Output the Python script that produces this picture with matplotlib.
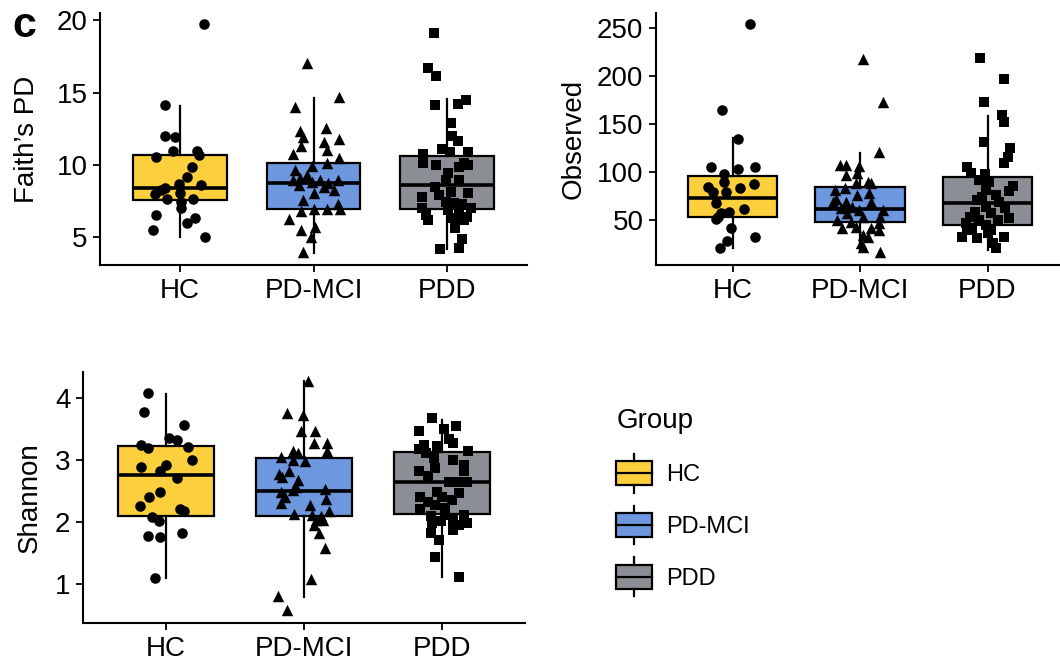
import matplotlib
matplotlib.use("Agg")
import matplotlib.pyplot as plt
from matplotlib.patches import Patch, Rectangle
from matplotlib.lines import Line2D
from matplotlib.legend_handler import HandlerBase

plt.rcParams['font.family'] = ['Liberation Sans', 'DejaVu Sans']

groups = ['HC', 'PD-MCI', 'PDD']
colors = ['#FCD03C', '#6D98E0', '#8B8F95']
markers = ['o', '^', 's']
marker_sizes = [58, 68, 46]

# box statistics: q1, median, q3, lower whisker, upper whisker
faith_box = [(7.58, 8.38, 10.66, 5.05, 14.07),
             (6.93, 8.77, 10.11, 3.90, 14.60),
             (6.93, 8.61, 10.64, 4.20, 14.53)]
observed_box = [(53.1, 72.3, 95.5, 20.2, 134.8),
                (47.9, 60.8, 83.7, 17.7, 119.8),
                (44.5, 67.1, 94.2, 18.4, 158.0)]
shannon_box = [(2.10, 2.76, 3.23, 1.09, 4.06),
               (2.10, 2.50, 3.03, 0.79, 4.27),
               (2.13, 2.64, 3.13, 1.12, 3.64)]

# sample values and their horizontal jitter (in category units)
faith_hc = [19.73, 14.12, 12.0, 11.95, 10.98, 10.98, 10.66, 10.52, 9.83, 9.19, 8.68, 8.61,
            8.38, 8.27, 7.99, 8.08, 7.64, 7.62, 7.46, 7.0, 6.54, 6.35, 6.01, 5.5, 5.0]
faith_hc_dx = [0.18, -0.11, -0.11, -0.04, -0.05, 0.13, 0.14, -0.18, 0.09, 0.05, -0.01, 0.16,
               -0.11, -0.14, -0.19, 0.0, -0.10, 0.10, 0.01, 0.01, -0.18, 0.11, 0.05, -0.20, 0.19]
faith_mci = [17.06, 14.71, 13.98, 12.36, 12.53, 11.9, 11.6, 11.77, 11.3, 11.03, 10.75, 10.48,
             10.11, 9.92, 9.65, 9.3, 9.07, 8.96, 8.96, 8.96, 8.84, 8.77, 8.61, 8.49, 8.27, 8.08,
             7.58, 7.3, 6.93, 6.84, 6.93, 6.93, 6.24, 5.73, 5.5, 5.04, 4.0]
faith_mci_dx = [-0.05, 0.19, -0.14, -0.10, 0.09, -0.08, 0.08, 0.19, -0.09, 0.10, -0.15, 0.19,
                0.10, -0.01, -0.14, -0.05, -0.10, -0.15, 0.05, 0.18, -0.01, 0.11, -0.11, 0.08,
                0.15, 0.0, -0.08, 0.18, 0.10, -0.09, 0.0, 0.20, -0.18, 0.01, -0.09, -0.02, -0.08]
faith_pdd = [19.13, 16.67, 16.14, 14.14, 14.21, 14.48, 12.87, 12.0, 11.67, 11.08, 10.75, 10.91,
             10.91, 9.99, 10.15, 10.11, 9.88, 9.42, 9.99, 8.96, 8.96, 8.49, 8.15, 8.08, 7.92,
             7.76, 7.46, 7.35, 7.3, 7.0, 7.0, 6.89, 6.66, 6.54, 6.42, 6.31, 6.19, 6.19, 6.19,
             5.62, 4.86, 4.17, 4.24]
faith_pdd_dx = [-0.10, -0.14, -0.08, -0.09, 0.08, 0.14, 0.03, 0.04, 0.08, -0.04, -0.18, 0.16,
                0.02, -0.08, -0.18, 0.13, 0.09, 0.01, 0.16, 0.09, -0.01, -0.09, 0.03, 0.16,
                -0.06, -0.19, -0.01, 0.05, 0.11, 0.18, -0.19, 0.01, 0.09, -0.16, 0.15, 0.03,
                -0.14, 0.08, 0.13, 0.06, 0.11, -0.05, 0.09]

obs_hc = [253.9, 164.3, 134.4, 105.2, 102.5, 105.2, 97.6, 89.6, 84.4, 82.7, 87.2, 79.2, 79.2,
          67.1, 61.5, 58.3, 56.7, 53.1, 50.4, 41.7, 31.7, 28.1, 20.2]
obs_hc_dx = [0.14, -0.08, 0.04, -0.17, 0.04, 0.18, -0.07, -0.07, -0.19, 0.06, 0.17, -0.15,
             -0.05, -0.13, 0.09, -0.03, -0.09, -0.11, -0.13, -0.01, 0.18, -0.04, -0.10]
obs_mci = [217.1, 172.9, 120.8, 107.0, 107.0, 105.9, 96.6, 98.3, 89.6, 88.5, 88.5, 80.9, 82.7,
           77.5, 75.7, 71.3, 68.8, 68.8, 68.8, 63.5, 61.9, 60.1, 60.1, 56.7, 53.1, 53.1, 49.7,
           47.9, 46.9, 41.0, 42.7, 41.0, 39.3, 34.1, 31.7, 26.0, 21.9, 16.7]
obs_mci_dx = [0.02, 0.18, 0.15, -0.16, -0.11, -0.01, -0.11, -0.02, 0.06, 0.09, -0.03, -0.20,
              -0.12, 0.07, -0.02, -0.19, -0.21, -0.11, 0.09, -0.06, -0.15, -0.01, 0.18, -0.10,
              0.02, 0.16, -0.18, -0.07, 0.15, -0.14, -0.03, 0.09, 0.15, 0.02, 0.06, 0.01, 0.02,
              0.16]
obs_pdd = [218.8, 196.2, 172.9, 159.0, 152.1, 131.3, 124.4, 115.6, 108.8, 105.2, 98.3, 97.6,
           91.4, 89.6, 85.1, 80.2, 80.9, 75.7, 70.5, 68.8, 63.5, 58.3, 56.7, 53.1, 51.5, 49.7,
           49.7, 46.2, 44.5, 41.0, 39.3, 31.7, 30.6, 31.7, 25.4, 20.2, 35.8, 39.3, 74.0, 61.9]
obs_pdd_dx = [-0.06, 0.13, -0.03, 0.11, 0.13, -0.03, 0.18, 0.16, 0.13, -0.16, -0.13, -0.02,
              -0.07, 0.01, 0.20, 0.17, -0.01, 0.07, -0.08, 0.09, -0.01, -0.10, 0.03, -0.14,
              0.17, -0.07, 0.08, -0.17, -0.01, -0.12, 0.03, -0.20, -0.08, 0.13, 0.04, 0.07,
              0.0, -0.16, -0.04, 0.14]

sha_hc = [4.08, 3.77, 3.57, 3.35, 3.32, 3.25, 3.19, 3.21, 3.0, 2.89, 2.92, 2.83, 2.71, 2.49,
          2.40, 2.26, 2.21, 2.18, 2.08, 2.02, 1.78, 1.76, 1.83, 1.09]
sha_hc_dx = [-0.13, -0.16, 0.13, 0.02, 0.08, -0.18, -0.13, 0.16, 0.19, -0.18, 0.0, -0.04,
             0.08, -0.04, -0.12, -0.19, 0.10, 0.13, -0.10, -0.05, -0.13, -0.04, 0.12, -0.08]
sha_mci = [4.27, 3.76, 3.73, 3.46, 3.46, 3.27, 3.28, 3.14, 3.15, 3.11, 3.05, 2.98, 3.0, 2.83,
           2.78, 2.73, 2.67, 2.57, 2.52, 2.49, 2.53, 2.41, 2.37, 2.30, 2.28, 2.13, 2.17, 2.11,
           2.10, 2.03, 2.03, 1.95, 1.82, 1.58, 1.08, 0.81, 0.58]
sha_mci_dx = [0.03, -0.12, -0.01, -0.02, 0.08, 0.07, 0.17, 0.17, -0.08, -0.04, -0.17, 0.01,
              -0.08, -0.11, -0.18, -0.16, -0.04, -0.06, -0.08, -0.17, 0.15, -0.14, 0.16, -0.17,
              0.04, -0.07, 0.18, 0.06, 0.12, 0.09, 0.14, 0.07, 0.11, 0.15, 0.05, -0.19, -0.12]
sha_pdd = [3.67, 3.55, 3.50, 3.46, 3.34, 3.28, 3.25, 3.22, 3.18, 3.15, 3.11, 3.03, 3.0, 2.92,
           2.87, 2.83, 2.83, 2.74, 2.65, 2.64, 2.65, 2.48, 2.47, 2.41, 2.41, 2.33, 2.36, 2.28,
           2.21, 2.22, 2.11, 2.11, 2.09, 2.03, 1.98, 1.98, 2.01, 1.95, 1.87, 1.82, 1.71, 1.43,
           1.12]
sha_pdd_dx = [-0.07, 0.10, 0.01, -0.17, 0.05, 0.08, -0.13, -0.04, -0.17, 0.19, -0.12, -0.06,
              0.08, 0.16, -0.05, -0.17, 0.16, -0.10, 0.05, 0.12, 0.18, -0.04, 0.12, -0.16, 0.0,
              -0.10, 0.07, -0.05, -0.16, 0.02, 0.16, 0.02, -0.08, 0.08, 0.18, -0.07, -0.01,
              0.12, 0.08, -0.08, -0.02, -0.05, 0.12]

W, H = 1060, 663
fig = plt.figure(figsize=(W / 100, H / 100), dpi=100)


def add_ax(left, top, right, bottom):
    return fig.add_axes([left / W, 1 - bottom / H, (right - left) / W, (bottom - top) / H])


def panel(ax, boxes, values, jitters, ylabel, ylim, yticks, label_x):
    stats = [dict(q1=q1, med=m, q3=q3, whislo=lo, whishi=hi)
             for q1, m, q3, lo, hi in boxes]
    bp = ax.bxp(stats, positions=[0, 1, 2], widths=0.7, patch_artist=True,
                showfliers=False, showcaps=False,
                boxprops=dict(edgecolor='black', linewidth=1.6),
                medianprops=dict(color='black', linewidth=2.6),
                whiskerprops=dict(color='black', linewidth=1.6))
    for patch, c in zip(bp['boxes'], colors):
        patch.set_facecolor(c)
    for i, (vals, dx) in enumerate(zip(values, jitters)):
        ax.scatter([i + d for d in dx], vals, marker=markers[i], s=marker_sizes[i],
                   color='black', linewidths=0, zorder=3)
    ax.set_xlim(-0.6, 2.6)
    ax.set_ylim(*ylim)
    ax.set_yticks(yticks)
    ax.set_xticks([0, 1, 2], groups)
    ax.set_ylabel(ylabel, fontsize=20)
    ax.yaxis.set_label_coords(label_x, 0.5)
    for s in ['top', 'right']:
        ax.spines[s].set_visible(False)
    for s in ['left', 'bottom']:
        ax.spines[s].set_linewidth(1.5)
    ax.tick_params(labelsize=20, length=5, width=1.3, colors='black', pad=4)


ax1 = add_ax(100, 13, 527, 265)
panel(ax1, faith_box, [faith_hc, faith_mci, faith_pdd],
      [faith_hc_dx, faith_mci_dx, faith_pdd_dx], 'Faith\u2019s PD', (3.09, 20.49),
      [5, 10, 15, 20], -0.14)

ax2 = add_ax(656, 13, 1064, 265)
panel(ax2, observed_box, [obs_hc, obs_mci, obs_pdd],
      [obs_hc_dx, obs_mci_dx, obs_pdd_dx], 'Observed', (2.8, 265.3),
      [50, 100, 150, 200, 250], -0.17)

ax3 = add_ax(83, 372, 525, 623)
panel(ax3, shannon_box, [sha_hc, sha_mci, sha_pdd],
      [sha_hc_dx, sha_mci_dx, sha_pdd_dx], 'Shannon', (0.37, 4.42), [1, 2, 3, 4], -0.09)


class BoxKey(HandlerBase):
    def create_artists(self, legend, orig_handle, xd, yd, width, height, fontsize, trans):
        x0, y0 = -xd, -yd
        cx = x0 + width / 2
        rect = Rectangle((x0, y0), width, height, facecolor=orig_handle.get_facecolor(),
                         edgecolor='black', linewidth=1.6, transform=trans)
        med = Line2D([x0, x0 + width], [y0 + height / 2] * 2, color='black', lw=1.6,
                     transform=trans)
        up = Line2D([cx, cx], [y0 + height, y0 + height * 1.33], color='black', lw=1.6,
                    transform=trans)
        dn = Line2D([cx, cx], [y0 - height * 0.33, y0], color='black', lw=1.6, transform=trans)
        return [rect, med, up, dn]


handles = [Patch(facecolor=c) for c in colors]
fig.legend(handles, groups, title='Group', loc='upper left',
           bbox_to_anchor=(595 / W, 1 - 387 / H),
           frameon=False, fontsize=17, title_fontsize=20, alignment='left',
           handlelength=1.52, handleheight=1.15, labelspacing=1.15, handletextpad=0.6,
           handler_map={Patch: BoxKey()})

fig.text(12 / W, 1 - 6 / H, 'c', fontsize=31, fontweight='black', va='top', ha='left')

fig.savefig('out.png', dpi=100)
